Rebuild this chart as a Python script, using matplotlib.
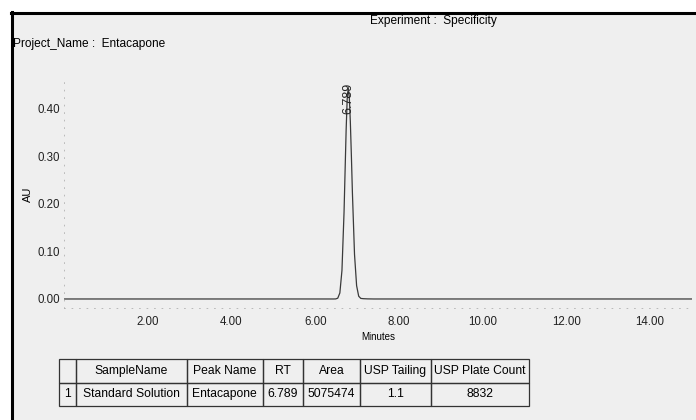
import matplotlib.pyplot as plt
from matplotlib.patches import Rectangle
from matplotlib.lines import Line2D

plt.rcParams['font.family'] = ['Liberation Sans', 'DejaVu Sans']

# chromatogram trace (minutes, AU)
minutes = [0.00, 2.00, 4.00, 6.00, 6.44, 6.489, 6.539, 6.589, 6.639, 6.689,
           6.714, 6.739, 6.764, 6.789, 6.814, 6.839, 6.864, 6.889, 6.939,
           6.989, 7.039, 7.089, 7.15, 7.25, 7.40, 10.00, 12.00, 15.00]
au = [0.000, 0.000, 0.000, 0.000, 0.000, 0.0001, 0.0017, 0.0127, 0.060,
      0.183, 0.270, 0.356, 0.421, 0.445, 0.426, 0.374, 0.302, 0.223, 0.094,
      0.028, 0.0058, 0.0012, 0.0006, 0.0002, 0.000, 0.000, 0.000, 0.000]

peak_rt = 6.789
peak_label = '6.789'
xticks = [2, 4, 6, 8, 10, 12, 14]
yticks = [0.0, 0.1, 0.2, 0.3, 0.4]

col_labels = ['', 'SampleName', 'Peak Name', 'RT', 'Area', 'USP Tailing', 'USP Plate Count']
row_values = ['1', 'Standard Solution', 'Entacapone', '6.789', '5075474', '1.1', '8832']

W, H = 696, 420
fig = plt.figure(figsize=(6.96, 4.2), dpi=100, facecolor='white')

# grey page with black top / left border
fig.patches.append(Rectangle((11 / W, 0), 1, 1 - 12 / H, transform=fig.transFigure,
                             facecolor='#efefef', edgecolor='none', zorder=-10))
fig.lines.append(Line2D([11 / W, 1], [1 - 12.5 / H] * 2, transform=fig.transFigure,
                        color='black', lw=2.2))
fig.lines.append(Line2D([11.5 / W] * 2, [0, 1 - 12 / H], transform=fig.transFigure,
                        color='black', lw=2.2))

fig.text(370 / W, 1 - 21 / H, 'Experiment :  Specificity', fontsize=8.6, va='center')
fig.text(13 / W, 1 - 44 / H, 'Project_Name :  Entacapone', fontsize=8.6, va='center')

ax = fig.add_axes([64 / W, 1 - 308 / H, 628 / W, 228 / H])
ax.set_facecolor('none')
ax.plot(minutes, au, color='#3a3a3a', lw=0.9)
ax.set_xlim(0, 15)
ax.set_ylim(-0.019, 0.461)
for s in ['top', 'right']:
    ax.spines[s].set_visible(False)
for s in ['left', 'bottom']:
    ax.spines[s].set_linestyle((0, (1, 8)))
    ax.spines[s].set_color('#b0b0b0')
    ax.spines[s].set_linewidth(0.6)
ax.set_xticks(xticks)
ax.set_xticklabels(['%.2f' % v for v in xticks])
ax.set_yticks(yticks)
ax.set_yticklabels(['%.2f' % v for v in yticks])
ax.tick_params(axis='both', length=0, labelsize=8.3, colors='#222222')
ax.tick_params(axis='x', pad=6)
ax.tick_params(axis='y', pad=3)
ax.set_ylabel('AU', fontsize=8, labelpad=3)
ax.set_xlabel('Minutes', fontsize=7, labelpad=3)
ax.text(peak_rt, 0.456, peak_label, rotation=90, ha='center', va='top',
        fontsize=9, color='#222222', clip_on=False)

# results table
tax = fig.add_axes([59 / W, 1 - 406 / H, 470 / W, 47 / H])
tax.axis('off')
widths = [17, 110.7, 76, 40.6, 56.7, 70.7, 98.3]
tot = sum(widths)
tbl = tax.table(cellText=[row_values], colLabels=col_labels, cellLoc='center',
                colWidths=[w / tot for w in widths], bbox=[0, 0, 1, 1])
tbl.auto_set_font_size(False)
tbl.set_fontsize(8.7)
for key, cell in tbl.get_celld().items():
    cell.set_facecolor('none')
    cell.set_edgecolor('#333333')
    cell.set_linewidth(0.9)
    cell.PAD = 0.02

fig.savefig('out.png', dpi=100, facecolor='white')
